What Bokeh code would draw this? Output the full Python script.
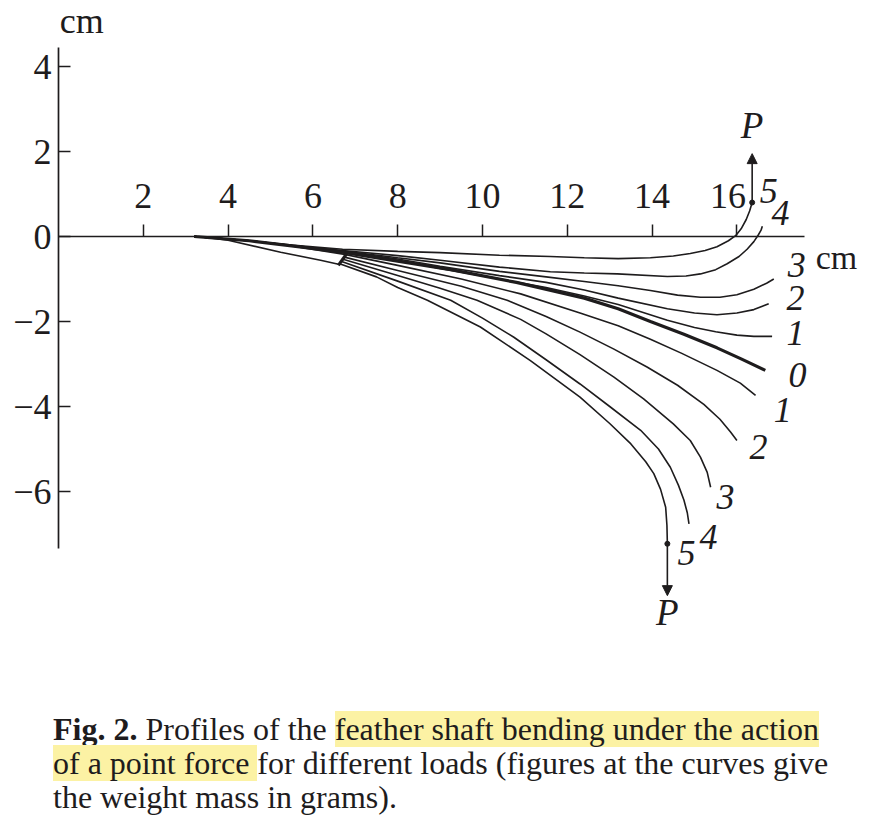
from bokeh.plotting import figure
from bokeh.layouts import column
from bokeh.models import Range1d, FixedTicker, Label, Arrow, NormalHead, Div, ColumnDataSource
from bokeh.core.properties import value
from bokeh.embed import file_html
from bokeh.resources import INLINE

# shaft profiles, (x, y) in cm; "up" = force pulls up, "down" = force pulls down
up5 = [(3.2, 0), (4.5, -0.1), (5.5, -0.2), (6.7, -0.3), (8, -0.35), (9, -0.38), (10.4, -0.44),
       (11.6, -0.47), (12.4, -0.5), (13.2, -0.52), (13.96, -0.5), (14.5, -0.46), (14.9, -0.4),
       (15.25, -0.33), (15.53, -0.24), (15.8, -0.1), (15.97, 0.02), (16.1, 0.18), (16.22, 0.4),
       (16.3, 0.6), (16.36, 0.8)]
up4 = [(3.2, 0), (4.5, -0.1), (5.5, -0.21), (6.7, -0.33), (8, -0.45), (9, -0.56), (10.4, -0.72),
       (11.6, -0.83), (12.4, -0.86), (13.18, -0.88), (14.36, -0.94), (14.8, -0.93), (15.14, -0.88),
       (15.5, -0.78), (15.77, -0.64), (16.05, -0.47), (16.24, -0.3), (16.4, -0.12), (16.5, 0.03),
       (16.57, 0.15), (16.6, 0.24)]
up3 = [(3.2, 0), (4.5, -0.1), (5.5, -0.21), (6.7, -0.34), (8, -0.5), (9, -0.62), (10.4, -0.82),
       (11.5, -0.95), (12.4, -1.06), (13.2, -1.16), (13.96, -1.27), (14.6, -1.38), (15.14, -1.43),
       (15.6, -1.43), (16.0, -1.37), (16.4, -1.24), (16.7, -1.1), (16.87, -1.0)]
up2 = [(3.2, 0), (4.5, -0.1), (5.5, -0.21), (6.7, -0.35), (8, -0.53), (9, -0.7), (10.4, -0.92),
       (11.5, -1.08), (12.4, -1.26), (13.2, -1.45), (14.36, -1.7), (15.0, -1.8), (15.53, -1.84),
       (16.0, -1.8), (16.4, -1.72), (16.75, -1.58)]
up1 = [(3.2, 0), (4.5, -0.1), (5.5, -0.21), (6.7, -0.36), (8, -0.56), (9, -0.75), (10.4, -1.0),
       (11.5, -1.2), (12.4, -1.4), (13.2, -1.6), (14.36, -1.97), (15.0, -2.14), (15.5, -2.24),
       (16.0, -2.32), (16.4, -2.35), (16.83, -2.35)]
zero = [(3.2, 0), (4.5, -0.1), (5.5, -0.22), (6.7, -0.37), (8, -0.58), (9.25, -0.78), (10.8, -1.08),
        (12.4, -1.45), (13.2, -1.7), (13.96, -2.0), (14.75, -2.3), (15.53, -2.62), (16.1, -2.88),
        (16.67, -3.15)]
down1 = [(3.2, 0), (4.5, -0.1), (5.5, -0.22), (6.75, -0.42), (8, -0.68), (9.5, -1.0), (10.9, -1.35),
         (12.3, -1.8), (13.2, -2.1), (13.96, -2.42), (14.7, -2.75), (15.53, -3.15), (16.08, -3.45),
         (16.44, -3.74)]
down2 = [(6.72, -0.48), (8, -0.8), (9.5, -1.17), (10.58, -1.5), (11.5, -1.88), (12.3, -2.25),
         (13.1, -2.65), (13.88, -3.07), (14.6, -3.5), (15.22, -3.95), (15.6, -4.3), (15.85, -4.6),
         (16.0, -4.8)]
down3 = [(6.69, -0.53), (8, -0.92), (9.0, -1.22), (9.87, -1.5), (10.9, -1.95), (11.5, -2.29),
         (12.3, -2.78), (13.1, -3.31), (13.8, -3.82), (14.5, -4.41), (14.9, -4.8), (15.14, -5.19),
         (15.3, -5.55), (15.38, -5.9)]
down4 = [(6.66, -0.58), (8, -1.05), (9.25, -1.5), (10.0, -1.92), (10.74, -2.37), (11.5, -2.9),
         (12.3, -3.47), (13.0, -4.0), (13.73, -4.56), (14.15, -5.0), (14.43, -5.43), (14.62, -5.85),
         (14.75, -6.2), (14.83, -6.5), (14.87, -6.76)]
down5 = [(6.63, -0.64), (7.5, -0.95), (8.0, -1.2), (8.7, -1.5), (9.95, -2.13), (11.13, -2.92),
         (12.3, -3.78), (13.0, -4.4), (13.5, -4.88), (13.85, -5.3), (14.04, -5.58), (14.2, -5.95),
         (14.32, -6.37), (14.35, -6.8), (14.36, -7.23)]

# lower edge of the clamped base and the clamp itself
base_edge = [(3.3, 0), (4.0, -0.09), (5.24, -0.37), (6.18, -0.56), (6.63, -0.66)]
clamp = [(6.6, -0.68), (6.8, -0.4)]

thin_curves = [up5, up4, up3, up2, up1, down1, down2, down3, down4, down5, base_edge]

# load marks (grams) at the curve ends
load_text = ["5", "4", "3", "2", "1", "0", "1", "2", "3", "4", "5"]
load_x = [16.75, 17.03, 17.41, 17.38, 17.38, 17.43, 17.08, 16.51, 15.73, 15.33, 14.81]
load_y = [1.08, 0.56, -0.68, -1.44, -2.28, -3.27, -4.09, -4.96, -6.14, -7.06, -7.44]

# point force P
force_x = [16.36, 14.36]
force_y0 = [0.8, -7.23]
force_y1 = [1.95, -8.45]
force_lbl_y = [2.61, -8.85]

x_ticks = [2, 4, 6, 8, 10, 12, 14, 16]
y_ticks = [-6, -4, -2, 0, 2, 4]

SERIF = "Liberation Serif"
INK = "#1e1c1d"

W, H = 870, 700
p = figure(width=W, height=H, output_backend="svg", toolbar_location=None,
           x_range=Range1d(-58 / 42.4, (W - 58) / 42.4),
           y_range=Range1d((236 - H) / 42.5, 236 / 42.5),
           x_axis_location="above", min_border=0, outline_line_color=None)
p.grid.visible = False

xa = p.xaxis[0]
xa.fixed_location = 0
xa.bounds = (0, 17.6)
xa.ticker = FixedTicker(ticks=x_ticks)
xa.major_tick_out = 12
xa.major_tick_in = 0
xa.minor_tick_out = 0
xa.minor_tick_in = 0
xa.major_label_standoff = 9
# the 16 label sits a little left of its tick, clear of curve 5
xa.major_label_overrides = {16: "16\u2007"}

ya = p.yaxis[0]
ya.fixed_location = 0
ya.bounds = (-7.35, 4.45)
ya.ticker = FixedTicker(ticks=y_ticks)
ya.major_tick_out = 0
ya.major_tick_in = 12
ya.minor_tick_out = 0
ya.minor_tick_in = 0
ya.major_label_standoff = 7
ya.major_label_overrides = {t: str(t).replace("-", "\u2212") for t in y_ticks}

for ax in (xa, ya):
    ax.axis_line_color = INK
    ax.axis_line_width = 1.7
    ax.major_tick_line_color = INK
    ax.major_tick_line_width = 1.5
    ax.major_label_text_font = SERIF
    ax.major_label_text_font_size = "36px"
    ax.major_label_text_color = INK

for c in thin_curves:
    p.line([pt[0] for pt in c], [pt[1] for pt in c], line_color=INK, line_width=1.6)
p.line([pt[0] for pt in zero], [pt[1] for pt in zero], line_color=INK, line_width=3.2)
p.line([pt[0] for pt in clamp], [pt[1] for pt in clamp], line_color=INK, line_width=3.2)

for fx, a, b in zip(force_x, force_y0, force_y1):
    p.add_layout(Arrow(end=NormalHead(size=10, fill_color=INK, line_color=INK),
                       x_start=fx, y_start=a, x_end=fx, y_end=b,
                       line_color=INK, line_width=1.6))
p.scatter(force_x, force_y0, size=5, color=INK)

src = ColumnDataSource(dict(x=load_x, y=load_y, t=load_text))
p.text("x", "y", text="t", source=src, text_font=value(SERIF), text_font_style="italic",
       text_font_size="36px", text_align="center", text_baseline="middle", text_color=INK)
p.text(force_x, force_lbl_y, text=["P", "P"], text_font=value(SERIF), text_font_style="italic",
       text_font_size="37px", text_align="center", text_baseline="middle", text_color=INK)

p.add_layout(Label(x=0.55, y=5.08, text="cm", text_font=SERIF, text_font_size="36px",
                   text_align="center", text_baseline="alphabetic", text_color=INK))
p.add_layout(Label(x=18.35, y=-0.49, text="cm", text_font=SERIF, text_font_size="34px",
                   text_align="center", text_baseline="alphabetic", text_color=INK))

caption = Div(
    text='<b>Fig. 2.</b> Profiles of the <span style="background:#fcf2a4">feather shaft bending '
         'under the action<br>of a point force </span>for different loads (figures at the curves give'
         '<br>the weight mass in grams).',
    width=812, height=102, margin=(12, 0, 0, 53),
    styles={"font-family": SERIF, "font-size": "32px", "line-height": "34px",
            "color": INK, "white-space": "nowrap"},
)

layout = column(p, caption, spacing=0)
open("out.html", "w").write(file_html(layout, INLINE))
